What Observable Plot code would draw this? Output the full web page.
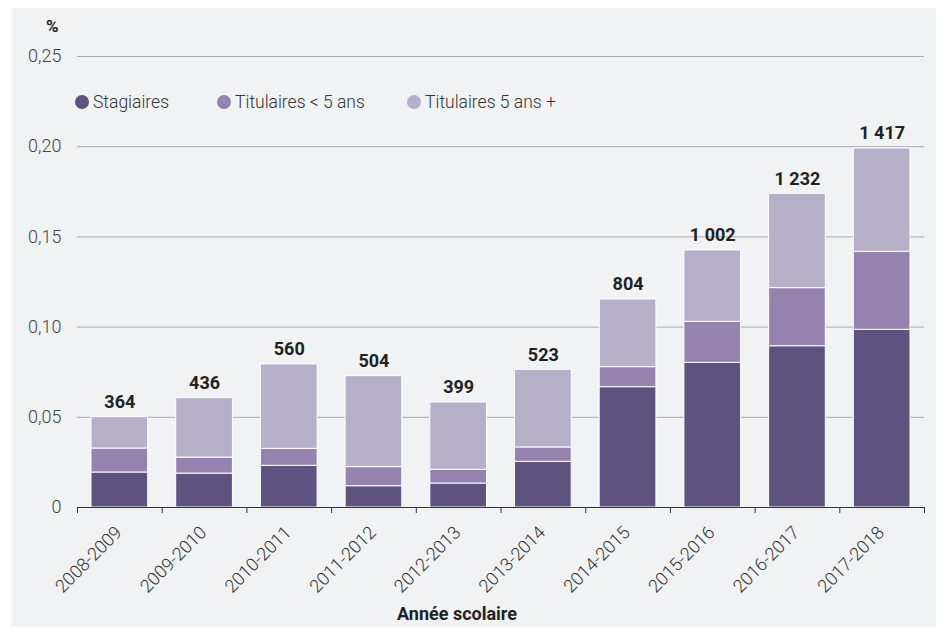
<!DOCTYPE html>
<html><head><meta charset="utf-8">
<script src="https://cdn.jsdelivr.net/npm/d3@7"></script>
<script src="https://cdn.jsdelivr.net/npm/@observablehq/plot@0.6"></script>
<style>
body{margin:0;background:#fff;}
#wrap{position:relative;width:938px;height:628px;font-family:Roboto,sans-serif;overflow:hidden;}
#bg{position:absolute;left:11px;top:8px;width:925px;height:619px;background:#f1f2f4;}
#chart{position:absolute;left:0;top:0;}
#legend{position:absolute;top:93px;left:0;height:18px;}
.item{position:absolute;top:0;display:flex;align-items:center;font-size:17.5px;font-weight:300;color:#333;line-height:18px;white-space:nowrap;}
.dot{width:14px;height:14px;border-radius:50%;margin-right:4px;flex:none;}
#pct{position:absolute;left:46px;top:16px;font-size:17px;font-weight:bold;color:#222;}
#xtitle{position:absolute;left:397px;top:603px;font-size:18px;font-weight:bold;color:#222;white-space:nowrap;}
</style></head><body>
<div id="wrap"><div id="bg"></div><div id="chart"></div><div id="legend"></div><div id="pct">%</div><div id="xtitle">Année scolaire</div></div>
<script>
const years = ["2008-2009","2009-2010","2010-2011","2011-2012","2012-2013","2013-2014","2014-2015","2015-2016","2016-2017","2017-2018"];
const stagiaires = [0.0194,0.0188,0.0231,0.0118,0.0133,0.0253,0.0667,0.0802,0.0894,0.0985];
const titMoins5 = [0.0133,0.0089,0.0094,0.0106,0.0076,0.0080,0.0111,0.0227,0.0322,0.0432];
const tit5plus = [0.0174,0.0329,0.0468,0.0504,0.0373,0.0430,0.0375,0.0396,0.0523,0.0573];
const effectifs = [364,436,560,504,399,523,804,1002,1232,1417];
const seriesNames = ["Stagiaires","Titulaires < 5 ans","Titulaires 5 ans +"];
const colors = ["#5e5280","#9483ae","#b5b0c8"];
const yTicks = [0,0.05,0.10,0.15,0.20,0.25];
const legendX = [75,217,407];

const loc = d3.formatLocale({decimal:",", thousands:"\u00a0", grouping:[3], currency:["",""]});
const fmtN = loc.format(",d");
const fmtY = d => d === 0 ? "0" : loc.format(".2f")(d);

const seriesArrays = [stagiaires, titMoins5, tit5plus];
const rows = [];
years.forEach((yr, i) => {
  let base = 0;
  seriesArrays.forEach((arr, s) => {
    rows.push({i, year: yr, serie: seriesNames[s], y1: base, y2: base + arr[i]});
    base += arr[i];
  });
});
const totals = years.map((yr, i) => ({i, year: yr, total: stagiaires[i] + titMoins5[i] + tit5plus[i], n: effectifs[i]}));

const chart = Plot.plot({
  width: 938, height: 628,
  marginLeft: 77, marginRight: 14, marginTop: 56, marginBottom: 121,
  style: {background: "transparent", fontFamily: "Roboto, sans-serif", fontSize: "17px", color: "#333"},
  x: {type: "linear", domain: [0, years.length], ticks: d3.range(years.length + 1), tickSize: 6, tickFormat: () => "", label: null},
  y: {domain: [0, 0.25], axis: null},
  color: {domain: seriesNames, range: colors},
  marks: [
    Plot.ruleY(yTicks.filter(d => d > 0), {stroke: "#ababab", strokeWidth: 1}),
    Plot.text(yTicks, {x: 0, y: d => d, text: fmtY, textAnchor: "end", dx: -16, fill: "#444", fontSize: 18, fontWeight: 300}),
    Plot.rect(rows, {x1: "i", x2: d => d.i + 1, y1: "y1", y2: "y2", fill: "serie", stroke: "#ffffff", strokeWidth: 1, insetLeft: 14, insetRight: 14}),
    Plot.ruleY([0], {stroke: "#333", strokeWidth: 1}),
    Plot.text(years, {x: (d, i) => i + 0.5, y: 0, text: d => d, rotate: -45, textAnchor: "end", dx: -1, dy: 22, fill: "#333", fontSize: 18, fontWeight: 300}),
    Plot.text(totals, {x: d => d.i + 0.5, y: "total", text: d => fmtN(d.n), dy: -15, fontWeight: "bold", fill: "#222", fontSize: 18})
  ]
});
document.getElementById("chart").appendChild(chart);

const leg = document.getElementById("legend");
seriesNames.forEach((name, s) => {
  const item = document.createElement("div");
  item.className = "item";
  item.style.left = legendX[s] + "px";
  const dot = document.createElement("span");
  dot.className = "dot";
  dot.style.background = colors[s];
  const label = document.createElement("span");
  label.textContent = name;
  item.appendChild(dot);
  item.appendChild(label);
  leg.appendChild(item);
});
</script>
</body></html>
